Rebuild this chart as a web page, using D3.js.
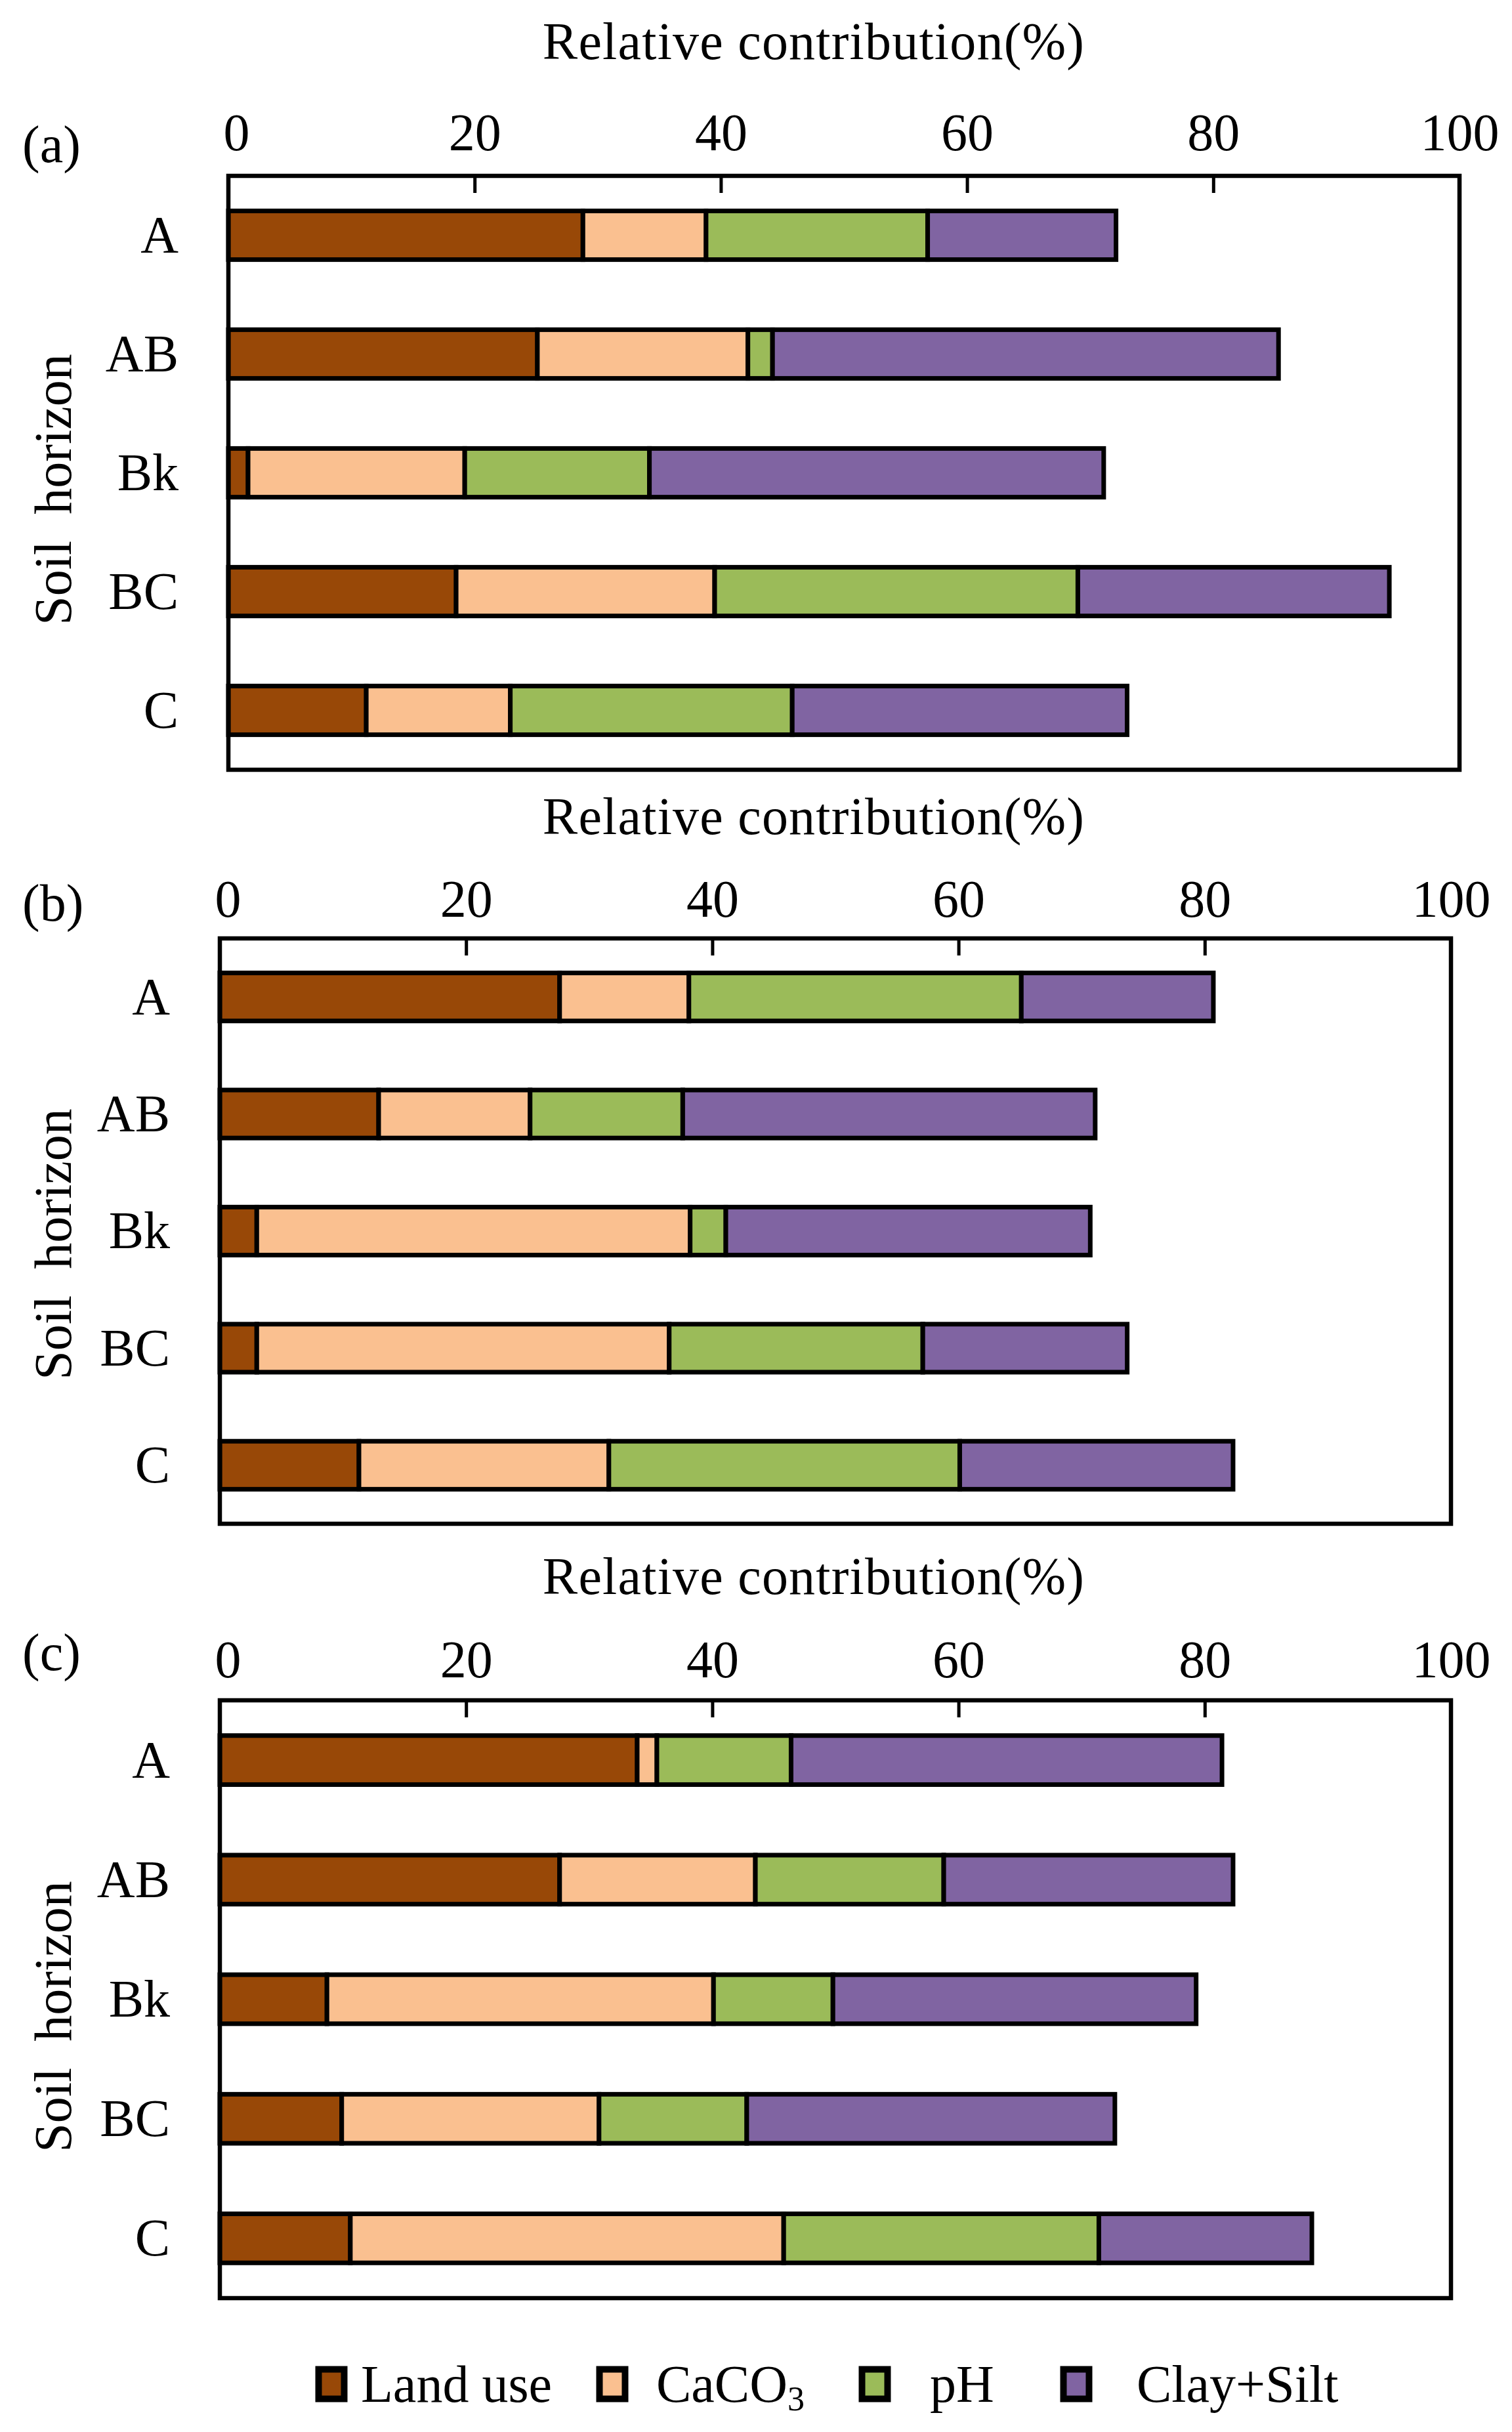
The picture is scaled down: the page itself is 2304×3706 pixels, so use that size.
<!DOCTYPE html>
<html>
<head>
<meta charset="utf-8">
<script src="https://cdn.jsdelivr.net/npm/d3@7"></script>
<style>
  html, body { margin: 0; padding: 0; background: #ffffff; }
  svg { display: block; }
  text { font-family: "Liberation Serif", "Times New Roman", serif; fill: #000; }
</style>
</head>
<body>
<script>
// ---------------- DATA ----------------
const categories = ["A", "AB", "Bk", "BC", "C"];
const seriesNames = ["Land use", "CaCO3", "pH", "Clay+Silt"];
const panelLabels = ["(a)", "(b)", "(c)"];
const xTicks = [0, 20, 40, 60, 80, 100];
const xTitle = "Relative contribution(%)";
const yTitle = "Soil  horizon";

// panel (a)
const landUseA  = [28.8, 25.1, 1.6, 18.5, 11.2];
const caco3A    = [10.0, 17.1, 17.6, 21.0, 11.7];
const pHA       = [18.0, 2.0, 15.0, 29.5, 22.9];
const claySiltA = [15.3, 41.1, 36.9, 25.3, 27.2];
// panel (b)
const landUseB  = [27.6, 12.9, 3.0, 3.0, 11.3];
const caco3B    = [10.5, 12.3, 35.2, 33.5, 20.3];
const pHB       = [27.0, 12.4, 2.9, 20.6, 28.5];
const claySiltB = [15.6, 33.5, 29.6, 16.6, 22.2];
// panel (c)
const landUseC  = [33.9, 27.6, 8.7, 9.9, 10.6];
const caco3C    = [1.6, 15.9, 31.4, 20.9, 35.2];
const pHC       = [10.9, 15.3, 9.7, 12.0, 25.6];
const claySiltC = [35.0, 23.5, 29.5, 29.9, 17.3];

// ---------------- STYLE / LAYOUT ----------------
const colors = ["#984807", "#FAC090", "#9BBB59", "#8064A2"];
const W = 2304, H = 3706, FS = 80;

const layouts = [
  { left: 348, right: 2224, top: 268,  bottom: 1173, titleY: 90,   tickGap: 39, labelY: 247,  yTitleY: 746 },
  { left: 335, right: 2211, top: 1430, bottom: 2322, titleY: 1271, tickGap: 33, labelY: 1403, yTitleY: 1896 },
  { left: 335, right: 2211, top: 2591, bottom: 3502, titleY: 2429, tickGap: 35, labelY: 2545, yTitleY: 3073 }
];

const panelSeries = [
  [landUseA, caco3A, pHA, claySiltA],
  [landUseB, caco3B, pHB, claySiltB],
  [landUseC, caco3C, pHC, claySiltC]
];

const svg = d3.select("body").append("svg")
  .attr("width", W).attr("height", H)
  .attr("viewBox", `0 0 ${W} ${H}`);
svg.append("rect").attr("width", W).attr("height", H).attr("fill", "#fff");

panelSeries.forEach((series, p) => {
  const L = layouts[p];
  const rows = categories.map((c, i) => {
    const r = { cat: c };
    seriesNames.forEach((s, k) => { r[s] = series[k][i]; });
    return r;
  });
  const stacked = d3.stack().keys(seriesNames)(rows);

  const x = d3.scaleLinear().domain([0, 100]).range([L.left, L.right]);
  const y = d3.scaleBand().domain(categories).range([L.top, L.bottom])
    .paddingInner(0.59).paddingOuter(0.295);

  const g = svg.append("g");

  // bars
  stacked.forEach((layer, k) => {
    g.append("g").selectAll("rect").data(layer).join("rect")
      .attr("x", d => x(d[0]))
      .attr("y", d => y(d.data.cat))
      .attr("width", d => x(d[1]) - x(d[0]))
      .attr("height", y.bandwidth())
      .attr("fill", colors[k])
      .attr("stroke", "#000")
      .attr("stroke-width", 7);
  });

  // frame
  g.append("rect")
    .attr("x", L.left).attr("y", L.top)
    .attr("width", L.right - L.left).attr("height", L.bottom - L.top)
    .attr("fill", "none").attr("stroke", "#000").attr("stroke-width", 6.5);

  // top axis with inner ticks
  const ax = g.append("g")
    .attr("transform", `translate(0,${L.top})`)
    .call(d3.axisTop(x).tickValues(xTicks).tickSizeInner(-26).tickSizeOuter(0).tickPadding(L.tickGap));
  ax.select(".domain").remove();
  ax.selectAll(".tick line")
    .attr("stroke", "#000").attr("stroke-width", 5)
    .attr("display", d => (d === 0 || d === 100) ? "none" : null);
  ax.selectAll(".tick text")
    .attr("font-family", "Liberation Serif, Times New Roman, serif")
    .attr("font-size", FS).attr("fill", "#000")
    .attr("dx", d => d === 0 ? 12 : 0);

  // left axis (categories)
  const ay = g.append("g")
    .attr("transform", `translate(${L.left},0)`)
    .call(d3.axisLeft(y).tickSize(0).tickPadding(76));
  ay.select(".domain").remove();
  ay.selectAll(".tick text")
    .attr("font-family", "Liberation Serif, Times New Roman, serif")
    .attr("font-size", FS).attr("fill", "#000").attr("dy", "0.33em");

  // axis title
  g.append("text")
    .attr("x", 1240).attr("y", L.titleY)
    .attr("text-anchor", "middle").attr("font-size", FS)
    .attr("letter-spacing", 1.2)
    .text(xTitle);

  // panel label
  g.append("text")
    .attr("x", 34).attr("y", L.labelY)
    .attr("font-size", FS)
    .text(panelLabels[p]);

  // y title
  g.append("text")
    .attr("transform", `translate(108,${L.yTitleY}) rotate(-90)`)
    .attr("text-anchor", "middle").attr("font-size", FS)
    .style("white-space", "pre")
    .text(yTitle);
});

// ---------------- LEGEND ----------------
const legendMarkX = [505, 933, 1333, 1640];
const legendTextX = [550, 1000, 1417, 1732];
const legendBase = 3660, legendMid = 3633;
const lg = svg.append("g");
seriesNames.forEach((s, k) => {
  lg.append("rect")
    .attr("x", legendMarkX[k] - 19.5).attr("y", legendMid - 22.5)
    .attr("width", 39).attr("height", 45)
    .attr("fill", colors[k]).attr("stroke", "#000").attr("stroke-width", 10);
  const t = lg.append("text").attr("x", legendTextX[k]).attr("y", legendBase).attr("font-size", FS);
  const m = s.match(/^(.*?)(\d+)$/);
  if (m) {
    t.append("tspan").text(m[1]);
    t.append("tspan").attr("font-size", 52).attr("dy", 13).text(m[2]);
  } else {
    t.text(s);
  }
});
</script>
</body>
</html>
